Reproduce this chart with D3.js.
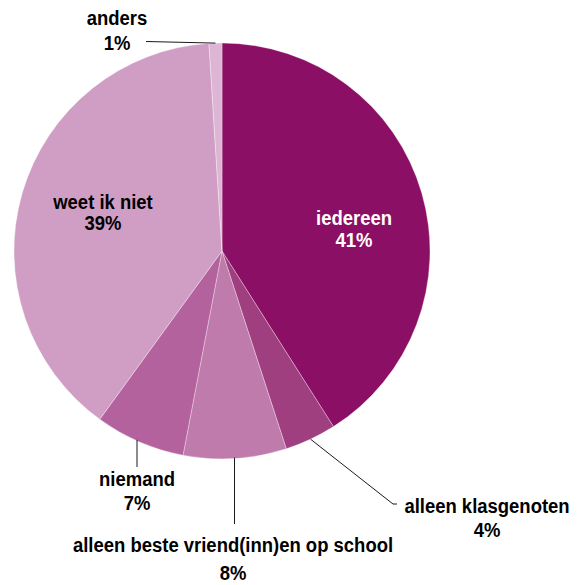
<!DOCTYPE html>
<html>
<head>
<meta charset="utf-8">
<script src="https://cdn.jsdelivr.net/npm/d3@7/dist/d3.min.js"></script>
<style>
  html, body { margin: 0; padding: 0; background: #fff; }
  svg { display: block; }
  .lbl { font-family: "Liberation Sans", Arial, sans-serif; font-weight: bold; font-size: 21px; }
</style>
</head>
<body>
<script>
// Who knows about it? (answer shares, %)
const categories = ["iedereen", "alleen klasgenoten", "alleen beste vriend(inn)en op school", "niemand", "weet ik niet", "anders"];
const values = [41, 4, 8, 7, 39, 1];
const colors = ["#8b0f65", "#a03f80", "#c07bad", "#b4629e", "#d09ec5", "#ddb5d5"];

// Label placement: text centre and first baseline; leader end point when the label sits outside
const labelLayout = [
  { x: 354, y: 225, gap: 22, fill: "#fff" },
  { x: 487, y: 513, gap: 24, fill: "#000", leader: [[393, 504], [397, 504]] },
  { x: 233, y: 552, gap: 28, fill: "#000", leader: [[234.5, 524]], vertical: true },
  { x: 137, y: 486, gap: 24, fill: "#000", leader: [[137, 467]], vertical: true },
  { x: 103, y: 209, gap: 21, fill: "#000" },
  { x: 117, y: 25,  gap: 25, fill: "#000", leader: [[146, 41.5]] }
];

const W = 582, H = 585;
const cx = 222, cy = 251, R = 208;

const svg = d3.select("body").append("svg").attr("width", W).attr("height", H);
const g = svg.append("g").attr("transform", `translate(${cx},${cy})`);

const rows = categories.map((c, i) => ({ cat: c, value: values[i], color: colors[i], lay: labelLayout[i] }));

const pie = d3.pie().value(d => d.value).sort(null);
const arc = d3.arc().innerRadius(0).outerRadius(R);
const arcs = pie(rows);

g.selectAll("path.slice").data(arcs).join("path")
  .attr("class", "slice")
  .attr("d", arc)
  .attr("fill", d => d.data.color)
  .attr("stroke", "#fff")
  .attr("stroke-opacity", 0.45)
  .attr("stroke-width", 0.7);

// leader lines from the rim at each slice's mid angle
const edgeArc = d3.arc().innerRadius(R).outerRadius(R);
arcs.forEach(d => {
  const lay = d.data.lay;
  if (!lay.leader) return;
  let [sx, sy] = edgeArc.centroid(d);
  sx += cx; sy += cy;
  const pts = [];
  if (lay.vertical) {
    const ex = lay.leader[0][0];
    // rim point directly above the label's x
    const yRim = cy + Math.sqrt(R * R - (ex - cx) * (ex - cx));
    pts.push([ex, yRim - 1], [ex, lay.leader[0][1]]);
  } else {
    pts.push([sx, sy], ...lay.leader);
  }
  svg.append("path")
    .attr("d", d3.line()(pts))
    .attr("fill", "none")
    .attr("stroke", "#1a1a1a")
    .attr("stroke-width", 1);
});

// labels: category name and percentage
arcs.forEach(d => {
  const lay = d.data.lay;
  const lines = [d.data.cat, d.data.value + "%"];
  lines.forEach((t, k) => {
    svg.append("text")
      .attr("class", "lbl")
      .attr("text-anchor", "middle")
      .attr("fill", lay.fill)
      .attr("transform", `translate(${lay.x},${lay.y + k * lay.gap}) scale(0.88,1)`)
      .text(t);
  });
});
</script>
</body>
</html>
